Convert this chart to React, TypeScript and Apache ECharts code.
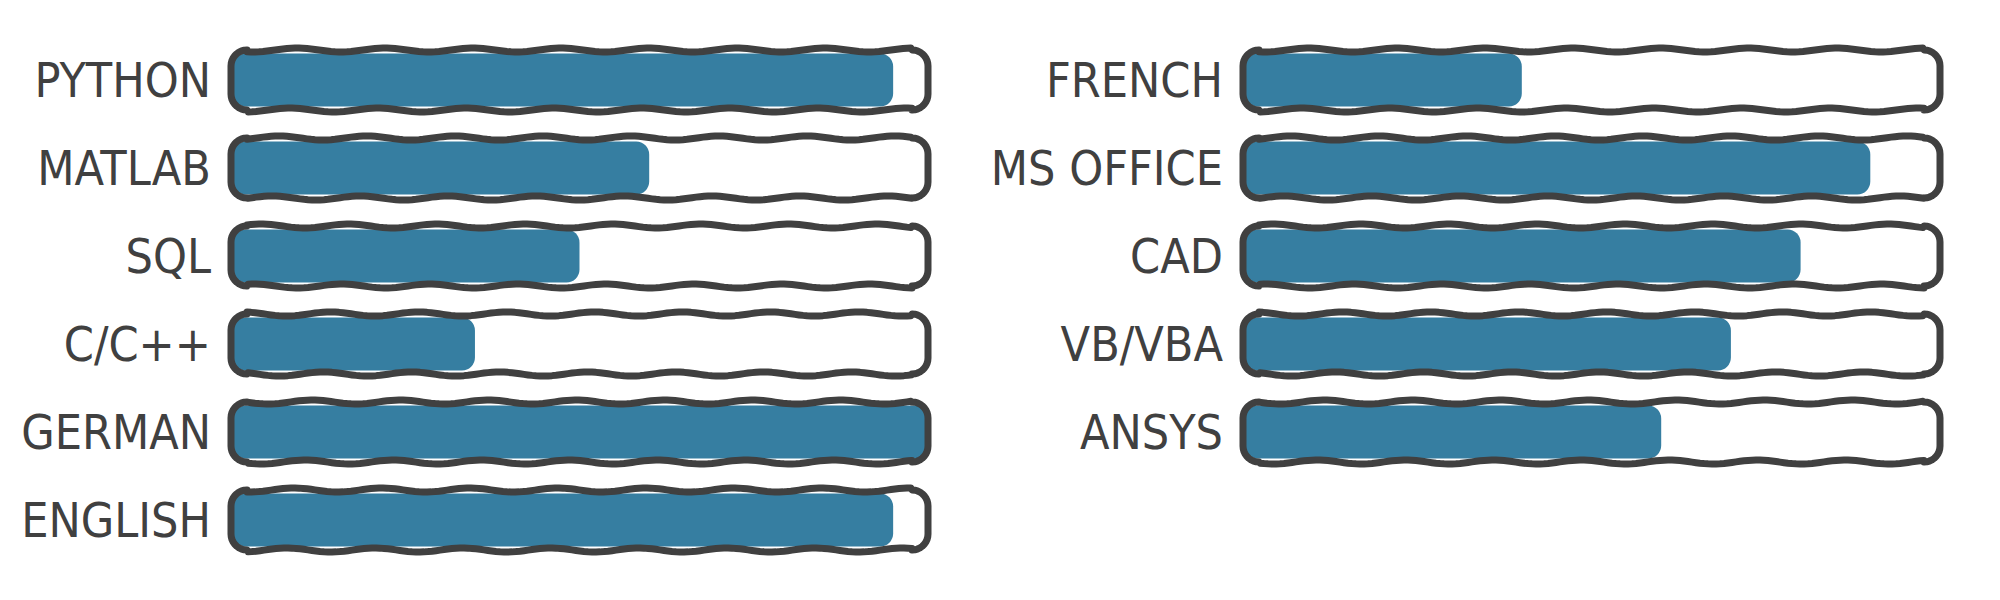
import React, { useEffect, useRef } from "react";
import * as echarts from "echarts";

const leftSkills = ["PYTHON", "MATLAB", "SQL", "C/C++", "GERMAN", "ENGLISH"];
const leftValues = [95, 60, 50, 35, 100, 95];
const rightSkills = ["FRENCH", "MS OFFICE", "CAD", "VB/VBA", "ANSYS"];
const rightValues = [40, 90, 80, 70, 60];

const FILL = "#367ea1";
const INK = "#404040";
const FONT = "'DejaVu Sans Condensed', 'Liberation Sans Narrow', 'DejaVu Sans', sans-serif";

function wavyOutline(x0: number, x1: number, yc: number, h: number, r: number, seed: number) {
  const top = yc - h / 2;
  const bot = yc + h / 2;
  const pts: number[][] = [];
  const amp = 2;
  const lam = 88;
  const wav = (x: number, ph: number) => amp * Math.sin((2 * Math.PI * (x - x0)) / lam + ph);
  for (let x = x0 + r; x <= x1 - r; x += 4) pts.push([x, top + wav(x, seed)]);
  for (let a = -90; a <= 0; a += 10) {
    const t = (a * Math.PI) / 180;
    pts.push([x1 - r + r * Math.cos(t), top + r + r * Math.sin(t)]);
  }
  for (let a = 0; a <= 90; a += 10) {
    const t = (a * Math.PI) / 180;
    pts.push([x1 - r + r * Math.cos(t), bot - r + r * Math.sin(t)]);
  }
  for (let x = x1 - r; x >= x0 + r; x -= 4) pts.push([x, bot + wav(x, seed + 0.5)]);
  for (let a = 90; a <= 180; a += 10) {
    const t = (a * Math.PI) / 180;
    pts.push([x0 + r + r * Math.cos(t), bot - r + r * Math.sin(t)]);
  }
  for (let a = 180; a <= 270; a += 10) {
    const t = (a * Math.PI) / 180;
    pts.push([x0 + r + r * Math.cos(t), top + r + r * Math.sin(t)]);
  }
  return pts;
}

function renderSkill(params: any, api: any) {
  const idx = api.value(1);
  const val = api.value(0);
  const p0 = api.coord([0, idx]);
  const p100 = api.coord([100, idx]);
  const pv = api.coord([val, idx]);
  const yc = p0[1];
  const x0 = p0[0];
  const x1 = p100[0];
  const xv = pv[0];
  const trackH = 60;
  const fillH = 53;
  return {
    type: "group",
    children: [
      {
        type: "rect",
        shape: { x: x0, y: yc - trackH / 2, width: x1 - x0, height: trackH, r: 16 },
        style: { fill: "#ffffff" },
      },
      {
        type: "rect",
        shape: { x: x0 + 2, y: yc - fillH / 2, width: Math.max(0, xv - x0 - 2), height: fillH, r: 13 },
        style: { fill: FILL },
      },
      {
        type: "polygon",
        shape: { points: wavyOutline(x0, x1, yc, trackH, 16, idx * 1.3) },
        style: { fill: "none", stroke: INK, lineWidth: 7, lineJoin: "round" },
      },
    ],
  };
}

export default function App() {
  const ref = useRef<HTMLDivElement>(null);
  useEffect(() => {
    document.body.style.margin = "0";
    const chart = echarts.init(ref.current!, null, { renderer: "svg" });
    const yAxisCommon = {
      type: "category" as const,
      inverse: true,
      axisLine: { show: false },
      axisTick: { show: false },
      splitLine: { show: false },
      axisLabel: { color: INK, fontSize: 48, fontFamily: FONT, margin: 20 },
    };
    const xAxisCommon = { type: "value" as const, min: 0, max: 100, show: false };
    chart.setOption({
      animation: false,
      backgroundColor: "#ffffff",
      grid: [
        { left: 231, width: 697, top: 36, height: 528 },
        { left: 1243, width: 697, top: 36, height: 440 },
      ],
      xAxis: [
        { ...xAxisCommon, gridIndex: 0 },
        { ...xAxisCommon, gridIndex: 1 },
      ],
      yAxis: [
        { ...yAxisCommon, gridIndex: 0, data: leftSkills },
        { ...yAxisCommon, gridIndex: 1, data: rightSkills },
      ],
      series: [
        {
          type: "custom",
          xAxisIndex: 0,
          yAxisIndex: 0,
          renderItem: renderSkill,
          data: leftValues.map((v, i) => [v, i]),
          encode: { x: 0, y: 1 },
        },
        {
          type: "custom",
          xAxisIndex: 1,
          yAxisIndex: 1,
          renderItem: renderSkill,
          data: rightValues.map((v, i) => [v, i]),
          encode: { x: 0, y: 1 },
        },
      ],
    });
    return () => chart.dispose();
  }, []);
  return <div ref={ref} style={{ width: 2000, height: 600 }} />;
}
